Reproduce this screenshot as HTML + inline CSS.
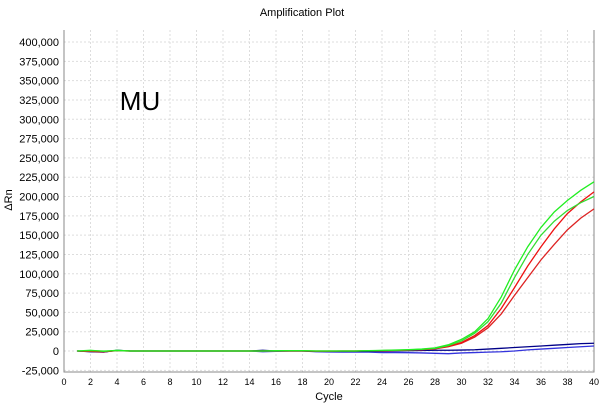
<!DOCTYPE html>
<html><head><meta charset="utf-8"><style>
body{margin:0;background:#fff;font-family:"Liberation Sans",sans-serif}
</style></head><body>
<svg id="c" width="604" height="405" xmlns="http://www.w3.org/2000/svg" font-family="Liberation Sans, sans-serif"></svg>
<script>
const cycles=[1,2,3,4,5,6,7,8,9,10,11,12,13,14,15,16,17,18,19,20,21,22,23,24,25,26,27,28,29,30,31,32,33,34,35,36,37,38,39,40];
const green1=[0,1000,-500,1000,0,0,0,0,0,0,0,0,0,0,0,500,500,500,0,0,0,0,500,800,1200,1800,2500,4000,8000,15000,25000,42000,70000,105000,135000,160000,180000,195000,208000,219000];
const green2=[0,500,0,500,0,0,0,0,0,0,0,0,0,0,0,0,500,300,0,0,0,0,300,600,1000,1500,2200,3500,7000,13000,23000,38000,62000,95000,125000,150000,168000,182000,192000,200000];
const red1=[0,-500,-1000,500,0,0,0,0,0,0,0,0,0,0,0,0,0,0,0,0,0,0,300,500,800,1300,2000,3000,6000,11000,20000,33000,55000,82000,110000,135000,158000,178000,193000,206000];
const red2=[0,-500,-800,300,0,0,0,0,0,0,0,0,0,0,0,0,0,0,-300,-300,0,0,200,400,700,1100,1700,2700,5500,10000,18000,30000,48000,72000,95000,118000,138000,157000,172000,184000];
const blue1=[0,-1000,-1500,1000,0,0,0,0,0,0,0,0,0,0,1000,0,0,0,-500,-500,-500,-500,-500,-300,0,300,600,1000,1000,1200,1600,2500,3500,4500,5500,6500,7500,8500,9500,10000];
const blue2=[0,-800,-1200,800,0,0,0,0,0,0,0,0,0,0,-1000,-500,0,0,-1000,-1200,-1500,-1500,-1500,-2000,-2000,-2200,-2500,-3000,-3500,-2500,-2000,-1500,-1000,0,1500,2500,3500,4500,5500,6500];
const xTicks=[0,2,4,6,8,10,12,14,16,18,20,22,24,26,28,30,32,34,36,38,40];
const yTicks=[-25000,0,25000,50000,75000,100000,125000,150000,175000,200000,225000,250000,275000,300000,325000,350000,375000,400000];
const L=64,R=594,T=30,B=372;
const X=v=>L+(v/40)*(R-L);
const Y=v=>351-(v/400000)*309;
const svg=document.getElementById('c');const NS='http://www.w3.org/2000/svg';
function el(t,a,txt){const e=document.createElementNS(NS,t);for(const k in a)e.setAttribute(k,a[k]);if(txt!==undefined)e.textContent=txt;svg.appendChild(e);return e;}
let e;
e=el('text',{x:302,y:16,'text-anchor':'middle','font-size':11},'Amplification Plot');


xTicks.forEach(t=>{if(t>0&&t<40){e=el('line',{x1:X(t),x2:X(t),y1:T,y2:B,stroke:'#ddd','stroke-dasharray':'2,2'});

}
e=el('text',{x:X(t),y:B+13,'text-anchor':'middle','font-size':9},String(t));

});
yTicks.forEach(t=>{e=el('line',{x1:L,x2:R,y1:Y(t),y2:Y(t),stroke:'#ddd','stroke-dasharray':'2,2'});


e=el('text',{x:L-5,y:Y(t)+4,'text-anchor':'end','font-size':11},t.toLocaleString('en-US'));

});
e=el('polyline',{points:`${L},${T} ${L},${B} ${R},${B} ${R},${T}`,fill:'none',stroke:'#888'});


e=el('text',{x:140,y:110,'font-size':26,'text-anchor':'middle'},'MU');


const series=[[blue2,'#3333dd'],[blue1,'#000088'],[red2,'#dd2222'],[red1,'#ee1111'],[green2,'#33dd33'],[green1,'#22ee22']];
series.forEach(([d,c])=>{e=el('polyline',{points:d.map((v,i)=>X(cycles[i])+','+Y(v)).join(' '),fill:'none',stroke:c,'stroke-width':1.3});

});
e=el('text',{x:329,y:400,'text-anchor':'middle','font-size':11},'Cycle');


e=el('text',{x:12,y:200,'text-anchor':'middle','font-size':11,transform:'rotate(-90 12 200)'},'ΔRn');


</script>
</body></html>
